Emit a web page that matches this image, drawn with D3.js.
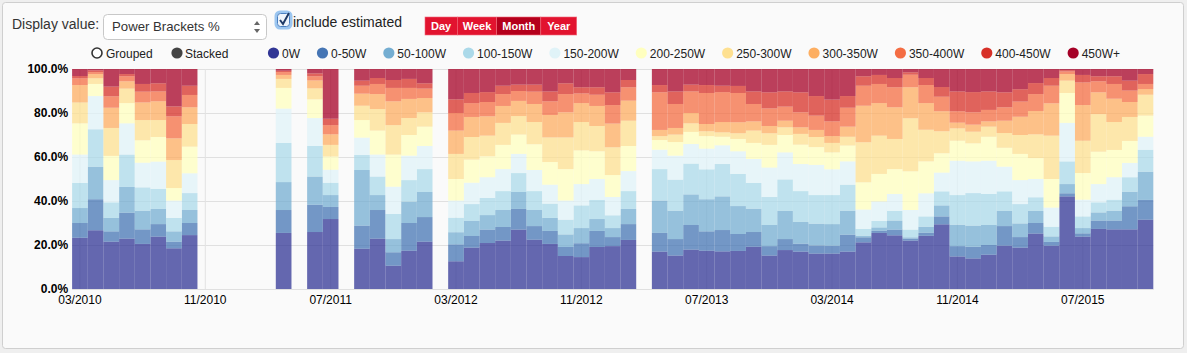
<!DOCTYPE html>
<html>
<head>
<meta charset="utf-8">
<script src="https://cdn.jsdelivr.net/npm/d3@7"></script>
<style>
  body { margin: 0; background: #efefef; }
  text { font-family: "Liberation Sans", Arial, sans-serif; }
</style>
</head>
<body>
<script>
// power bracket share per month (percent), null = month without data

const months = [
  "03/2010","04/2010","05/2010","06/2010","07/2010","08/2010","09/2010","10/2010",
  "11/2010","12/2010","01/2011","02/2011","03/2011","04/2011","05/2011","06/2011",
  "07/2011","08/2011","09/2011","10/2011","11/2011","12/2011","01/2012","02/2012",
  "03/2012","04/2012","05/2012","06/2012","07/2012","08/2012","09/2012","10/2012",
  "11/2012","12/2012","01/2013","02/2013","03/2013","04/2013","05/2013","06/2013",
  "07/2013","08/2013","09/2013","10/2013","11/2013","12/2013","01/2014","02/2014",
  "03/2014","04/2014","05/2014","06/2014","07/2014","08/2014","09/2014","10/2014",
  "11/2014","12/2014","01/2015","02/2015","03/2015","04/2015","05/2015","06/2015",
  "07/2015","08/2015","09/2015","10/2015","11/2015"
];

const tickLabels = ["03/2010","11/2010","07/2011","03/2012","11/2012","07/2013","03/2014","11/2014","07/2015"];
const yTicks = [0, 0.2, 0.4, 0.6, 0.8, 1];

const brackets = ["0W","0-50W","50-100W","100-150W","150-200W","200-250W","250-300W","300-350W","350-400W","400-450W","450W+"];
const colors = ["#313695","#4575b4","#74add1","#abd9e9","#e0f3f8","#ffffbf","#fee090","#fdae61","#f46d43","#d73027","#a50026"];

const w0 = [23.3,26.7,21.5,22.9,20.5,23.8,18.5,24.5,null,null,null,null,null,25.5,null,25.9,31.8,null,18.3,22.9,10.6,17.4,21.5,null,
  12.6,18.8,20.9,22.0,27.0,22.4,20.5,15.0,14.5,19.1,19.5,22.3,null,17.0,15.2,17.9,17.4,17.1,17.3,19.2,15.2,17.7,17.0,16.1,
  16.1,17.0,21.2,25.5,24.4,22.0,24.2,29.4,14.8,13.9,15.6,19.7,18.8,25.2,19.7,42.1,23.8,27.3,27.1,27.1,31.5];
const w0_50 = [6.7,14.1,4.7,11.8,6.6,5.7,3.0,5.5,null,null,null,null,null,10.4,null,12.4,5.5,null,10.5,13.0,6.1,12.6,11.2,null,
  7.7,5.3,6.1,6.2,9.4,6.2,5.9,4.1,6.3,7.3,4.1,7.2,null,8.5,7.5,11.2,8.8,9.7,7.7,6.7,4.3,5.0,3.6,3.7,
  3.6,7.7,2.3,1.0,2.6,0.9,1.4,3.6,4.7,5.3,4.4,8.9,4.8,4.8,1.7,1.4,1.5,3.8,4.0,10.5,9.0];
const w50_100 = [6.8,14.8,6.1,11.7,8.5,6.9,4.7,5.9,null,null,null,null,null,12.7,null,12.8,5.4,null,25.3,6.8,6.0,9.7,11.4,null,
  5.5,6.8,6.6,7.7,7.7,7.3,5.9,5.7,6.9,5.4,4.1,6.9,null,14.7,12.9,13.9,14.6,15.3,12.7,10.6,9.6,12.8,9.9,9.9,
  9.8,10.9,0.7,1.5,4.1,0.6,2.7,5.0,9.7,9.6,9.1,6.9,6.2,5.5,2.5,4.2,2.4,3.7,4.5,6.6,12.8];
const w100_150 = [11.4,17.0,7.1,14.7,10.6,9.1,6.1,7.7,null,null,null,null,null,17.8,null,13.9,5.6,null,6.8,8.4,11.4,9.8,10.4,null,
  6.6,7.7,7.8,8.6,8.6,8.6,6.5,6.7,10.3,8.7,5.8,8.1,null,14.3,14.1,14.0,13.6,14.7,14.6,11.7,12.7,14.3,14.0,13.0,
  13.2,11.8,3.1,2.9,4.4,3.5,4.7,6.4,13.5,14.8,14.1,8.9,8.8,6.2,4.4,10.3,5.3,4.6,5.0,6.6,10.0];
const w150_200 = [12.9,15.1,10.1,14.2,11.2,12.4,7.9,9.0,null,null,null,null,null,15.6,null,12.7,5.9,null,7.9,10.0,12.4,11.1,10.5,null,
  7.8,9.7,9.4,10.0,8.7,9.6,8.6,8.7,9.7,9.5,8.3,9.1,null,8.8,10.9,8.9,9.4,8.5,10.3,10.9,13.4,12.3,12.3,13.7,
  11.7,10.6,8.8,8.9,7.7,8.9,10.5,8.5,15.6,14.4,15.1,11.2,10.9,8.3,8.7,17.5,7.6,8.3,10.2,6.5,5.9];
const w200_250 = [14.2,5.5,11.0,9.2,10.2,11.2,5.7,12.1,null,null,null,null,null,9.4,null,8.5,6.0,null,8.0,10.9,14.6,9.4,8.8,null,
  9.8,10.5,9.5,11.0,8.8,11.7,10.3,14.3,15.3,12.6,10.0,11.4,null,4.4,6.2,5.5,5.7,3.9,5.6,7.3,10.3,7.9,8.8,8.1,
  7.7,7.2,12.4,12.5,11.3,17.6,14.5,8.8,9.1,8.2,10.9,8.6,11.9,9.5,13.0,13.6,12.1,14.7,12.4,10.0,9.6];
const w250_300 = [9.5,2.6,12.7,6.6,9.2,7.7,12.7,10.3,null,null,null,null,null,4.1,null,5.0,5.3,null,6.5,9.8,13.4,7.7,6.5,null,
  11.4,10.3,9.4,10.0,8.4,10.1,11.2,14.4,12.9,11.5,12.6,11.5,null,1.8,3.4,3.9,2.2,2.0,2.6,5.6,5.3,3.5,4.9,4.6,
  4.3,4.0,18.2,17.4,13.7,24.1,14.4,10.0,5.6,5.3,4.6,6.7,8.6,10.8,19.7,5.6,14.7,17.1,12.7,10.9,9.5];
const w300_350 = [7.9,1.9,9.2,3.3,8.0,8.5,9.9,7.6,null,null,null,null,null,1.8,null,3.6,4.8,null,5.5,6.8,10.8,8.7,6.5,null,
  10.6,9.1,8.8,7.7,6.9,8.2,10.2,11.4,8.6,9.1,10.8,9.1,null,2.8,3.0,4.7,3.3,4.7,5.0,4.2,3.3,3.0,3.0,3.2,
  3.1,4.6,16.6,14.8,14.4,14.1,12.1,9.1,2.6,3.2,2.4,5.6,8.3,10.6,14.7,3.0,16.2,9.9,10.6,6.8,2.6];
const w350_400 = [3.1,0.9,5.2,2.3,4.9,4.5,10.0,5.6,null,null,null,null,null,1.3,null,1.9,4.2,null,3.6,4.6,6.1,5.0,4.3,null,
  8.0,6.3,6.5,5.4,4.5,5.6,6.2,8.3,4.4,5.1,8.4,6.1,null,17.1,10.9,9.8,14.1,13.6,13.3,7.9,8.0,6.4,6.8,6.5,
  6.7,8.6,9.1,8.7,9.1,5.7,8.2,6.6,5.2,5.6,5.2,6.1,6.9,7.7,8.0,1.2,10.3,5.0,6.7,5.2,2.3];
const w400_450 = [1.0,0.8,4.4,1.0,3.5,3.7,4.5,4.2,null,null,null,null,null,0.6,null,1.3,2.9,null,2.3,2.7,3.6,4.1,2.4,null,
  6.2,4.6,4.5,3.8,2.9,3.2,4.5,4.9,2.8,3.4,5.8,3.3,null,3.3,5.7,3.1,3.6,2.9,3.2,5.7,7.3,6.9,9.1,8.9,
  9.9,5.3,4.3,4.1,4.2,1.1,3.2,4.4,9.0,9.2,8.4,6.8,5.6,5.0,3.5,0.6,3.4,2.3,3.5,4.5,4.5];
const w450 = [3.2,0.6,8.0,2.3,6.8,6.5,17.0,7.6,null,null,null,null,null,0.8,null,2.0,22.6,null,5.3,4.1,5.0,4.5,6.5,null,
  13.8,10.9,10.5,7.6,7.1,7.1,10.2,6.5,8.3,8.3,10.6,5.0,null,7.3,10.2,7.1,7.3,7.6,7.7,10.2,10.6,10.2,10.6,12.3,
  13.9,12.3,3.3,2.7,4.1,1.5,4.1,8.2,10.2,10.5,10.2,10.6,9.2,6.4,4.1,0.5,2.7,3.3,3.3,5.3,2.3];

const series = [w0, w0_50, w50_100, w100_150, w150_200, w200_250, w250_300, w300_350, w350_400, w400_450, w450];

const W = 1187, H = 353;
const margin = { left: 72.1, right: 33.7, top: 69, bottom: 64 };

const svg = d3.select("body").append("svg")
    .attr("width", W)
    .attr("height", H);

// panel
svg.append("rect")
    .attr("x", 2.5).attr("y", 2.5)
    .attr("width", 1181).attr("height", 346)
    .attr("rx", 3)
    .attr("fill", "#fafafa")
    .attr("stroke", "#cfcfcf");

// ---- header controls ----
svg.append("text")
    .attr("x", 12).attr("y", 29)
    .attr("font-size", 14).attr("fill", "#333")
    .text("Display value:");

svg.append("rect")
    .attr("x", 103.5).attr("y", 14.5)
    .attr("width", 163).attr("height", 25)
    .attr("rx", 4)
    .attr("fill", "#fff").attr("stroke", "#c8c8c8");
svg.append("text")
    .attr("x", 112).attr("y", 31)
    .attr("font-size", 13.2).attr("fill", "#333")
    .text("Power Brackets %");
svg.append("path").attr("d", "M254,25 L257,21 L260,25 Z").attr("fill", "#666");
svg.append("path").attr("d", "M254,29 L257,33 L260,29 Z").attr("fill", "#666");

// checkbox
svg.append("rect")
    .attr("x", 276).attr("y", 12)
    .attr("width", 15).attr("height", 16).attr("rx", 4)
    .attr("fill", "none").attr("stroke", "#9cc6f0").attr("stroke-width", 3);
svg.append("rect")
    .attr("x", 277.5).attr("y", 13.5)
    .attr("width", 12).attr("height", 13).attr("rx", 3)
    .attr("fill", "#eef4fb").attr("stroke", "#4a7fc0").attr("stroke-width", 1);
svg.append("path")
    .attr("d", "M280,20 L283,24 L289,13")
    .attr("fill", "none").attr("stroke", "#1f3a66").attr("stroke-width", 2);
svg.append("text")
    .attr("x", 293).attr("y", 26.5)
    .attr("font-size", 14).attr("fill", "#222")
    .text("include estimated");

// period buttons
const periods = ["Day", "Week", "Month", "Year"];
const periodX = [425, 457.3, 496.7, 540.8, 576.7];
periods.forEach((p, i) => {
  svg.append("rect")
      .attr("x", periodX[i]).attr("y", 17)
      .attr("width", periodX[i + 1] - periodX[i]).attr("height", 18)
      .attr("fill", p === "Month" ? "#b5001c" : "#e2132f")
      .attr("stroke", "#f06a7a").attr("stroke-width", 0.6);
  svg.append("text")
      .attr("x", (periodX[i] + periodX[i + 1]) / 2).attr("y", 30)
      .attr("text-anchor", "middle")
      .attr("font-size", 11).attr("font-weight", "bold").attr("fill", "#fff")
      .text(p);
});

// ---- legend row ----
const legendY = 53;
svg.append("circle").attr("cx", 97).attr("cy", legendY).attr("r", 5)
    .attr("fill", "#fff").attr("stroke", "#333").attr("stroke-width", 1.6);
svg.append("text").attr("x", 106).attr("y", legendY + 4.5)
    .attr("font-size", 12).attr("fill", "#222").text("Grouped");
svg.append("circle").attr("cx", 177).attr("cy", legendY).attr("r", 5.6)
    .attr("fill", "#444");
svg.append("text").attr("x", 185).attr("y", legendY + 4.5)
    .attr("font-size", 12).attr("fill", "#222").text("Stacked");

let lx = 268;
brackets.forEach((b, i) => {
  svg.append("circle")
      .attr("cx", lx + 5.5).attr("cy", legendY).attr("r", 5.6)
      .attr("fill", colors[i]);
  const t = svg.append("text")
      .attr("x", lx + 14).attr("y", legendY + 4.5)
      .attr("font-size", 12).attr("fill", "#222")
      .text(b);
  lx = lx + 14 + t.node().getComputedTextLength() + 17;
});

// ---- chart ----
const table = months.map((m, i) => {
  const row = { month: m };
  brackets.forEach((b, k) => { row[b] = series[k][i]; });
  return row;
});
const present = table.filter(r => r["0W"] != null);

const x = d3.scaleBand()
    .domain(months)
    .range([margin.left, W - margin.right])
    .padding(0);

const y = d3.scaleLinear()
    .domain([0, 1])
    .range([H - margin.bottom, margin.top]);

const color = d3.scaleOrdinal().domain(brackets).range(colors);

// grid
svg.append("g")
  .selectAll("line.h")
  .data(yTicks)
  .join("line")
    .attr("x1", margin.left).attr("x2", W - margin.right)
    .attr("y1", d => Math.round(y(d)) + 0.5).attr("y2", d => Math.round(y(d)) + 0.5)
    .attr("stroke", "#e0e0e0");

svg.append("g")
  .selectAll("line.v")
  .data(tickLabels)
  .join("line")
    .attr("x1", d => x(d) + x.bandwidth() / 2).attr("x2", d => x(d) + x.bandwidth() / 2)
    .attr("y1", margin.top).attr("y2", H - margin.bottom)
    .attr("stroke", "#e2e2e2");

const stacked = d3.stack()
    .keys(brackets)
    .offset(d3.stackOffsetExpand)(present);

svg.append("g")
  .selectAll("g")
  .data(stacked)
  .join("g")
    .attr("fill", d => color(d.key))
    .attr("fill-opacity", 0.75)
  .selectAll("rect")
  .data(d => d)
  .join("rect")
    .attr("x", d => x(d.data.month))
    .attr("width", x.bandwidth())
    .attr("y", d => y(d[1]))
    .attr("height", d => y(d[0]) - y(d[1]));

// axes
const xAxis = svg.append("g")
    .attr("transform", `translate(0,${H - margin.bottom})`)
    .call(d3.axisBottom(x).tickValues(tickLabels).tickSize(0).tickPadding(6.5));
xAxis.select(".domain").attr("stroke", "#e0e0e0");
xAxis.selectAll("text")
    .attr("font-size", 12).attr("fill", "#000")
    .attr("font-family", "Liberation Sans, Arial, sans-serif");

const yAxis = svg.append("g")
    .attr("transform", `translate(${margin.left},0)`)
    .call(d3.axisLeft(y).tickValues(yTicks).tickFormat(d3.format(".1%")).tickSize(0).tickPadding(4));
yAxis.select(".domain").remove();
yAxis.selectAll("text")
    .attr("font-size", 12).attr("font-weight", "bold").attr("fill", "#000")
    .attr("font-family", "Liberation Sans, Arial, sans-serif");
</script>
</body>
</html>
